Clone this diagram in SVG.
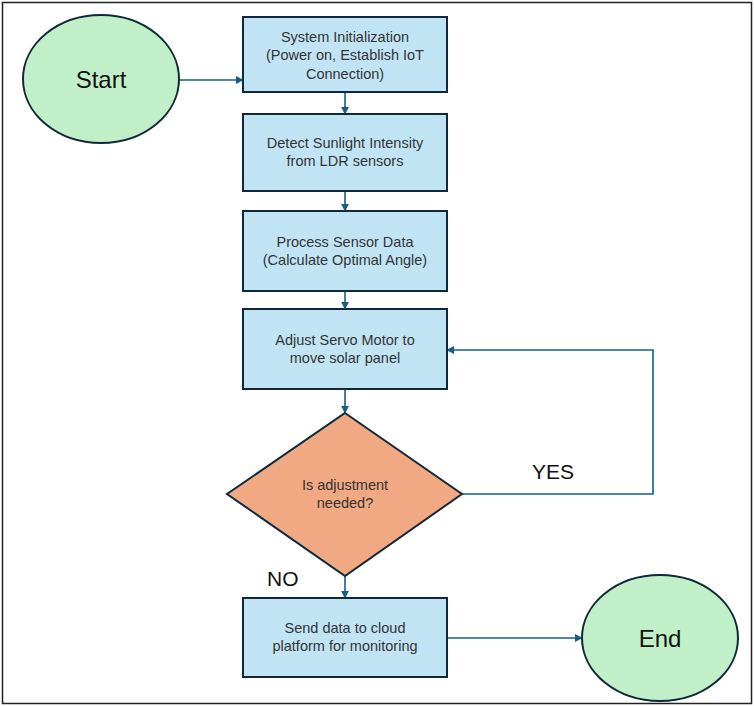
<svg xmlns="http://www.w3.org/2000/svg" width="754" height="706" viewBox="0 0 754 706">
<defs>
<style>
.box{fill:#C1E4F5;stroke:#10293A;stroke-width:2}
.term{fill:#C1F0C8;stroke:#10293A;stroke-width:2}
.dec{fill:#F1A983;stroke:#10293A;stroke-width:2}
.conn{fill:none;stroke:#156082;stroke-width:1.6}
.t{font-family:"Liberation Sans",Arial,sans-serif;font-size:14.5px;fill:#333;text-anchor:middle}
.big{font-family:"Liberation Sans",Arial,sans-serif;font-size:24px;fill:#111;text-anchor:middle}
.lbl{font-family:"Liberation Sans",Arial,sans-serif;font-size:21px;fill:#111}
</style>
<marker id="arr" viewBox="0 0 10 10" refX="9" refY="5" markerWidth="8" markerHeight="8" orient="auto" markerUnits="userSpaceOnUse">
<path d="M0,0 L10,5 L0,10 z" fill="#156082"/>
</marker>
</defs>
<rect x="0" y="0" width="754" height="706" fill="#fff"/>
<rect x="2.5" y="2.5" width="749" height="701" fill="none" stroke="#222" stroke-width="1.5"/>
<g id="connectors">
<path class="conn" d="M179,80 H243" marker-end="url(#arr)"/>
<path class="conn" d="M345,92 V114" marker-end="url(#arr)"/>
<path class="conn" d="M345,191 V211" marker-end="url(#arr)"/>
<path class="conn" d="M345,291 V309" marker-end="url(#arr)"/>
<path class="conn" d="M345,389 V413" marker-end="url(#arr)"/>
<path class="conn" d="M462,494 H653 V350 H447" marker-end="url(#arr)"/>
<path class="conn" d="M345,576 V598" marker-end="url(#arr)"/>
<path class="conn" d="M447,638 H582" marker-end="url(#arr)"/>
</g>
<g id="start">
<ellipse class="term" cx="101" cy="79" rx="78" ry="64"/>
<text class="big" x="101" y="88">Start</text>
</g>
<g id="init">
<rect class="box" x="243" y="17" width="204" height="75"/>
<text class="t" x="345" y="42">System Initialization</text>
<text class="t" x="345" y="60">(Power on, Establish IoT</text>
<text class="t" x="345" y="79">Connection)</text>
</g>
<g id="detect">
<rect class="box" x="243" y="114" width="204" height="77"/>
<text class="t" x="345" y="148">Detect Sunlight Intensity</text>
<text class="t" x="345" y="166">from LDR sensors</text>
</g>
<g id="process">
<rect class="box" x="243" y="211" width="204" height="80"/>
<text class="t" x="345" y="247">Process Sensor Data</text>
<text class="t" x="345" y="265">(Calculate Optimal Angle)</text>
</g>
<g id="adjust">
<rect class="box" x="243" y="309" width="204" height="80"/>
<text class="t" x="345" y="345">Adjust Servo Motor to</text>
<text class="t" x="345" y="363">move solar panel</text>
</g>
<g id="decision">
<polygon class="dec" points="345,413 462,494 345,576 227,494"/>
<text class="t" x="345" y="490">Is adjustment</text>
<text class="t" x="345" y="508">needed?</text>
</g>
<g id="send">
<rect class="box" x="243" y="598" width="204" height="79"/>
<text class="t" x="345" y="633">Send data to cloud</text>
<text class="t" x="345" y="651">platform for monitoring</text>
</g>
<g id="end">
<ellipse class="term" cx="660" cy="638" rx="78" ry="63"/>
<text class="big" x="660" y="647">End</text>
</g>
<text class="lbl" x="532" y="479">YES</text>
<text class="lbl" x="267" y="586">NO</text>
</svg>
